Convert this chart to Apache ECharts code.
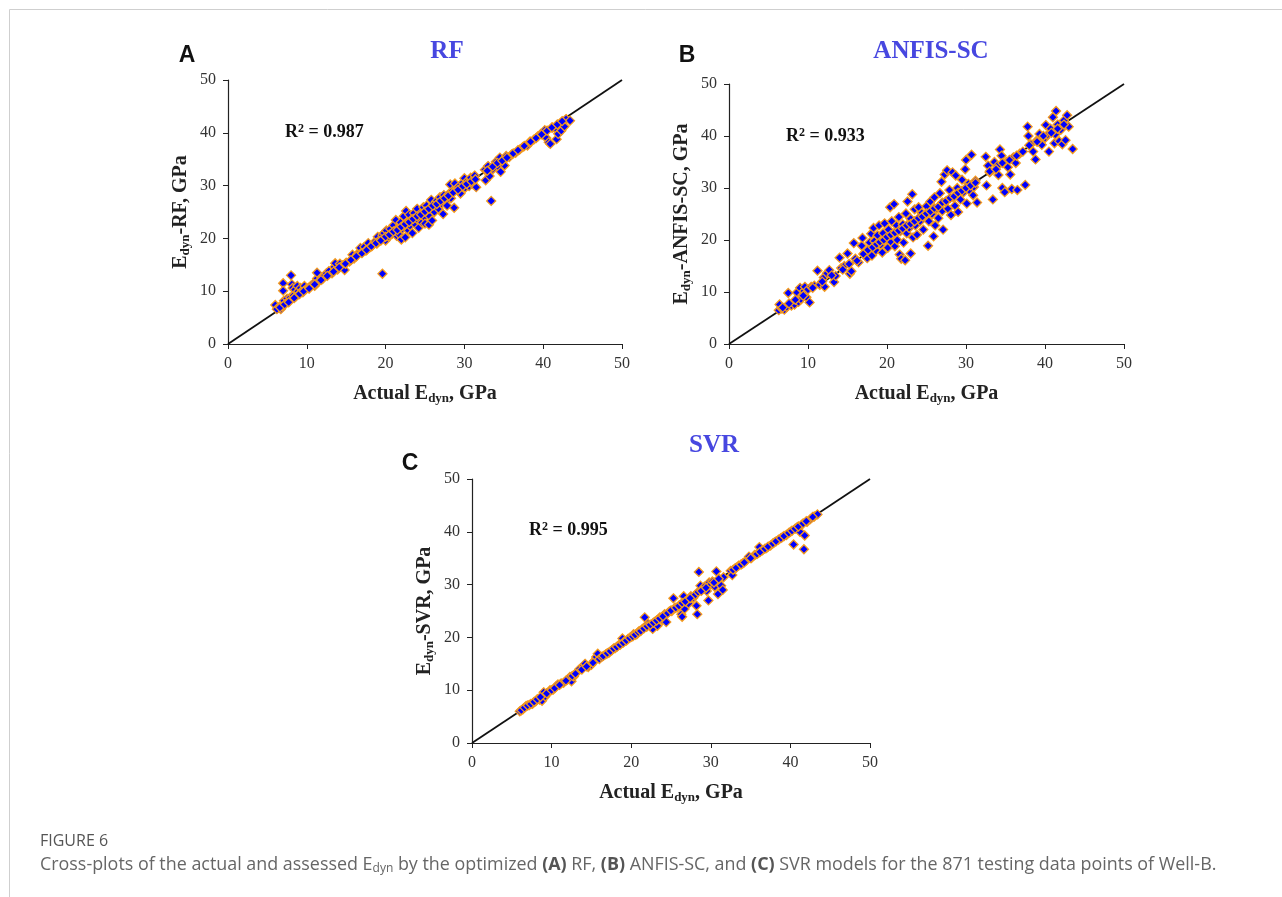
<!DOCTYPE html>
<html>
<head>
<meta charset="utf-8">
<script src="https://cdn.jsdelivr.net/npm/echarts@6/dist/echarts.min.js"></script>
<style>
html,body{margin:0;padding:0;background:#fff;}
#main{width:1282px;height:897px;}
</style>
</head>
<body>
<div id="main"></div>
<script>
// ---------- DATA ----------
const panelTitles = ['RF', 'ANFIS-SC', 'SVR'];
const panelLetters = ['A', 'B', 'C'];
const r2Values = ['0.987', '0.933', '0.995'];
const axisTickValues = [0, 10, 20, 30, 40, 50];
const diagonal = [[0, 0], [50, 50]];

const rfPoints = [
[6.0,7.4],[6.3,6.8],[6.5,7.0],[6.7,6.6],[6.9,7.2],[7.0,11.5],[7.0,10.1],[7.1,8.2],[7.3,7.6],[7.5,8.6],[7.6,8.0],[7.9,8.8],[8.0,13.0],[8.1,11.3],[8.2,10.6],[8.3,9.2],[8.5,10.3],[8.6,9.0],[8.8,11.0],[8.9,10.0],[9.0,9.4],[9.2,10.6],[9.4,10.1],[9.5,9.8],[9.7,11.0],[9.9,10.4],[10.2,10.6],[10.5,11.0],[10.8,11.4],[11.0,11.0],[11.3,12.4],[11.3,13.5],[11.6,12.0],[12.0,12.3],[12.2,12.9],[12.5,13.4],[12.8,13.8],[13.2,13.4],[13.5,14.6],[13.6,15.3],[13.9,14.1],[14.2,15.2],[14.5,14.9],[14.8,14.0],[15.0,15.4],[15.4,15.6],[15.8,16.9],[16.0,16.2],[16.4,17.0],[16.8,18.2],[17.0,17.4],[17.3,18.4],[17.5,17.7],[17.8,19.1],[18.0,18.3],[18.3,18.6],[18.6,19.3],[18.9,19.0],[19.0,20.3],[19.3,19.8],[19.6,13.3],[19.6,20.6],[19.8,21.0],[20.0,19.6],[20.1,21.5],[20.4,20.3],[20.6,21.8],[20.8,20.8],[21.0,22.5],[21.1,21.2],[21.3,23.5],[21.4,20.5],[21.6,22.0],[21.7,20.8],[21.9,23.0],[22.0,19.8],[22.1,21.8],[22.3,24.2],[22.4,22.6],[22.5,20.2],[22.6,25.2],[22.7,23.0],[22.9,21.5],[23.0,24.5],[23.1,22.4],[23.3,23.6],[23.4,21.0],[23.6,24.8],[23.8,22.6],[24.0,25.6],[24.1,23.5],[24.2,22.0],[24.4,24.7],[24.6,23.0],[24.8,25.9],[24.9,24.0],[25.0,22.8],[25.2,26.2],[25.3,25.0],[25.5,22.6],[25.6,24.2],[25.8,27.3],[25.9,23.4],[26.0,26.0],[26.2,25.0],[26.4,27.0],[26.5,26.4],[26.7,25.6],[26.9,27.8],[27.1,26.6],[27.3,24.6],[27.4,28.2],[27.6,27.0],[27.8,26.2],[28.0,28.4],[28.2,30.2],[28.3,27.6],[28.5,29.0],[28.7,25.8],[28.8,30.4],[29.0,29.4],[29.3,29.8],[29.5,28.5],[29.8,30.6],[30.0,31.4],[30.1,29.6],[30.4,30.9],[30.6,29.9],[30.8,31.5],[31.0,30.3],[31.3,31.9],[31.5,29.7],[32.6,33.0],[32.7,31.0],[33.0,33.7],[33.2,31.8],[33.4,27.1],[33.6,33.1],[34.0,34.5],[34.3,33.6],[34.5,35.3],[34.6,32.6],[34.9,34.8],[35.1,33.8],[35.3,35.6],[35.7,35.4],[36.0,35.9],[36.5,36.2],[37.0,36.8],[37.4,37.3],[38.0,37.6],[38.3,38.3],[38.8,38.7],[39.3,39.3],[39.7,39.8],[40.0,39.6],[40.2,40.5],[40.4,39.0],[40.7,38.2],[40.9,37.9],[41.2,41.0],[41.5,40.9],[41.7,38.8],[41.9,39.8],[42.1,41.7],[42.3,40.4],[42.5,42.1],[42.7,41.2],[42.9,42.6],[43.4,42.3]
];
const rfNearLine = [
[6.2,6.6],[6.6,6.9],[7.2,7.5],[7.7,7.9],[8.4,8.7],[9.1,9.5],[9.6,10.0],[10.3,10.5],[11.0,11.3],[11.8,12.1],[12.6,12.9],[13.4,13.7],[14.1,14.5],[14.9,15.2],[15.6,15.9],[16.3,16.6],[17.0,17.2],[17.6,17.8],[18.2,18.5],[18.8,19.1],[19.4,19.6],[20.0,20.3],[20.5,20.7],[21.0,21.3],[21.5,21.6],[22.0,22.2],[22.5,22.7],[23.0,23.1],[23.5,23.7],[24.0,24.2],[24.5,24.5],[25.0,25.1],[25.5,25.6],[26.0,26.2],[26.5,26.5],[27.0,27.1],[27.5,27.6],[28.0,28.1],[28.6,28.7],[29.2,29.2],[29.8,29.9],[30.3,30.3],[30.9,30.8],[31.4,31.2],[32.9,32.8],[33.6,33.6],[34.2,34.3],[34.8,34.7],[35.4,35.3],[36.2,36.1],[36.8,36.7],[37.6,37.5],[38.4,38.3],[39.1,39.0],[39.8,39.7],[40.5,40.4],[41.1,41.0],[41.8,41.6],[42.4,42.2]
];

const anfisPoints = [
[6.3,6.5],[6.4,7.6],[6.7,6.8],[7.0,6.6],[7.3,7.1],[7.5,9.8],[7.9,7.4],[8.3,7.6],[8.6,9.9],[8.8,8.1],[9.0,10.8],[9.1,8.6],[9.3,9.4],[9.5,10.2],[9.6,11.0],[9.8,9.0],[10.0,10.5],[10.2,8.0],[10.4,11.0],[10.8,11.2],[11.2,14.1],[11.5,11.4],[12.0,12.8],[12.1,11.0],[12.4,13.6],[12.7,14.2],[13.3,11.9],[13.5,13.1],[14.0,16.6],[14.2,14.6],[14.6,15.0],[15.0,17.4],[15.3,13.5],[15.5,14.0],[15.8,19.4],[16.0,16.4],[16.4,15.7],[16.8,18.9],[16.9,20.4],[17.2,17.6],[17.5,16.5],[17.8,19.5],[18.0,21.2],[18.1,17.0],[18.3,22.3],[18.4,19.8],[18.6,18.0],[18.8,20.9],[19.0,22.8],[19.2,19.1],[19.4,17.6],[19.5,21.3],[19.7,23.2],[19.9,20.2],[20.1,18.5],[20.2,22.0],[20.4,26.3],[20.5,19.6],[20.6,23.6],[20.8,21.2],[20.9,26.9],[21.0,18.8],[21.2,22.8],[21.3,20.0],[21.5,24.4],[21.6,17.2],[21.7,21.7],[21.8,16.4],[22.0,23.0],[22.1,19.5],[22.3,16.1],[22.4,25.1],[22.5,21.3],[22.6,27.4],[22.8,22.3],[23.0,17.4],[23.0,24.1],[23.2,28.8],[23.3,20.5],[23.5,25.9],[23.6,22.8],[23.8,21.0],[24.0,26.3],[24.2,23.6],[24.4,25.2],[24.6,22.0],[24.8,24.8],[25.0,26.5],[25.2,18.9],[25.3,23.6],[25.5,27.4],[25.7,25.0],[25.9,20.7],[26.0,28.2],[26.1,22.8],[26.3,26.0],[26.5,24.2],[26.7,29.0],[26.9,31.2],[27.0,25.6],[27.1,22.0],[27.3,32.6],[27.4,27.3],[27.6,33.4],[27.7,26.0],[27.9,29.6],[28.1,24.8],[28.3,33.0],[28.4,28.2],[28.6,26.6],[28.7,32.4],[28.9,30.0],[29.0,25.4],[29.3,27.8],[29.5,31.6],[29.7,29.2],[29.9,33.6],[30.0,35.4],[30.1,27.0],[30.3,30.8],[30.5,29.4],[30.7,36.4],[30.9,28.6],[31.0,30.2],[31.2,31.4],[31.4,27.2],[32.5,36.0],[32.6,30.5],[32.8,34.3],[33.0,33.0],[33.4,27.8],[33.6,35.0],[34.0,34.3],[34.1,32.5],[34.3,37.4],[34.5,36.2],[34.6,30.0],[34.9,29.2],[35.1,35.0],[35.3,34.0],[35.6,32.6],[35.8,29.8],[36.0,35.9],[36.3,34.8],[36.5,29.6],[36.8,36.6],[37.5,30.6],[37.8,41.8],[37.9,40.0],[38.2,38.4],[38.5,37.0],[38.8,35.5],[39.0,39.2],[39.3,40.4],[39.6,38.3],[40.0,39.6],[40.1,42.1],[40.3,40.2],[40.5,37.0],[40.7,41.4],[41.0,43.6],[41.2,38.6],[41.3,40.3],[41.4,44.8],[41.6,42.2],[41.8,39.0],[42.0,41.2],[42.2,38.4],[42.4,43.0],[42.6,39.2],[42.8,44.0],[43.0,41.8],[43.5,37.5]
];
const anfisNearLine = [
[6.8,7.0],[7.6,7.8],[8.4,8.5],[9.4,9.3],[10.6,10.8],[11.8,12.0],[13.0,13.2],[14.4,14.3],[15.2,15.4],[16.2,16.0],[17.0,17.3],[17.6,18.1],[18.2,18.6],[18.7,19.2],[19.1,19.6],[19.6,20.0],[20.0,20.6],[20.5,21.0],[21.0,21.4],[21.5,21.8],[22.0,22.2],[22.5,22.8],[23.0,23.1],[23.5,23.6],[24.0,24.2],[24.5,24.5],[25.0,25.1],[25.5,25.5],[26.0,26.1],[26.5,26.4],[27.0,27.2],[27.5,27.5],[28.0,28.1],[28.5,28.4],[29.0,29.1],[29.5,29.5],[30.0,30.0],[30.6,30.5],[31.2,31.0],[33.0,33.2],[33.8,33.6],[34.6,34.8],[35.5,35.4],[36.4,36.2],[37.2,37.0],[38.0,38.2],[39.0,38.9],[39.8,40.0],[40.8,40.6],[41.6,41.4],[42.4,42.2]
];

const svrPoints = [
[6.0,6.0],[6.4,6.4],[6.8,7.0],[7.2,7.2],[7.6,7.4],[8.0,7.9],[8.5,8.2],[8.8,8.0],[9.0,9.6],[9.2,8.8],[9.5,9.4],[9.8,10.0],[10.2,10.1],[10.6,10.8],[10.8,11.1],[11.2,11.3],[11.5,11.4],[12.0,12.0],[12.3,12.5],[12.5,11.7],[12.8,12.6],[13.3,13.6],[13.5,14.0],[14.0,14.6],[14.2,15.0],[14.6,14.4],[15.0,14.8],[15.3,15.5],[15.6,16.3],[15.8,16.9],[16.0,15.9],[16.3,16.3],[16.8,16.8],[17.2,17.1],[17.6,17.6],[18.0,18.0],[18.4,18.5],[18.8,18.9],[18.9,19.8],[19.2,19.3],[19.6,19.7],[20.0,20.1],[20.3,20.6],[20.7,20.6],[21.0,21.2],[21.4,21.6],[21.7,23.8],[21.9,22.0],[22.1,22.6],[22.4,22.1],[22.7,21.6],[23.0,23.0],[23.3,22.2],[23.6,23.8],[23.9,23.3],[24.2,24.4],[24.4,22.9],[24.8,24.9],[25.1,25.0],[25.3,27.4],[25.5,25.6],[25.8,25.7],[26.1,26.1],[26.3,24.4],[26.4,23.9],[26.6,27.8],[26.7,25.4],[27.0,27.0],[27.2,26.4],[27.5,27.8],[27.8,27.5],[28.0,28.0],[28.2,26.0],[28.3,24.4],[28.4,28.6],[28.5,32.4],[28.7,29.8],[28.9,29.0],[29.2,29.6],[29.5,28.8],[29.7,27.0],[29.8,30.4],[30.0,30.0],[30.2,30.6],[30.5,29.6],[30.7,32.5],[30.9,28.2],[31.1,31.0],[31.3,29.8],[31.5,29.0],[31.6,31.4],[32.5,32.6],[32.7,31.8],[33.0,33.0],[33.5,33.6],[34.0,34.0],[34.5,34.6],[34.8,35.3],[35.1,35.0],[35.5,35.6],[36.0,36.0],[36.1,37.1],[36.5,36.5],[37.0,36.9],[37.5,37.4],[38.0,38.0],[38.5,38.5],[39.0,39.0],[39.5,39.4],[40.0,40.0],[40.4,37.6],[40.8,40.8],[41.2,40.0],[41.4,41.3],[41.7,36.7],[41.8,39.3],[42.1,41.9],[42.5,42.4],[43.0,42.9],[43.4,43.3]
];
const svrNearLine = [
[6.2,6.2],[6.6,6.7],[7.0,7.1],[7.4,7.4],[7.8,7.8],[8.2,8.3],[8.6,8.7],[9.4,9.4],[10.0,10.0],[10.4,10.4],[11.0,11.0],[11.8,11.8],[12.6,12.7],[13.0,13.1],[13.8,13.9],[14.4,14.5],[15.2,15.2],[16.5,16.5],[17.0,17.0],[17.4,17.4],[17.8,17.9],[18.2,18.2],[18.6,18.6],[19.0,19.0],[19.4,19.4],[19.8,19.9],[20.2,20.2],[20.5,20.5],[20.9,21.0],[21.2,21.2],[21.6,21.7],[22.0,22.1],[22.4,22.4],[22.8,22.8],[23.2,23.2],[23.6,23.6],[24.0,24.0],[24.6,24.6],[25.0,25.1],[25.6,25.6],[26.0,26.0],[26.4,26.5],[26.8,26.8],[27.4,27.4],[28.8,28.8],[29.4,29.4],[30.4,30.4],[31.0,31.1],[32.8,32.8],[33.2,33.2],[33.8,33.8],[34.2,34.2],[35.0,35.0],[35.8,35.8],[36.2,36.2],[36.8,36.8],[37.2,37.2],[37.8,37.8],[38.2,38.2],[38.8,38.8],[39.2,39.2],[39.8,39.8],[40.2,40.2],[40.6,40.6],[41.0,41.0],[41.6,41.6],[42.0,42.0],[42.8,42.8]
];

// ---------- LAYOUT ----------
const serif = '"Liberation Serif", "Times New Roman", serif';
const grids = [
  {left: 228, top: 80, width: 394, height: 264},
  {left: 729, top: 84, width: 395, height: 260},
  {left: 472, top: 479, width: 398, height: 264}
];
const yNames = ['E{sub|dyn}-RF, GPa', 'E{sub|dyn}-ANFIS-SC, GPa', 'E{sub|dyn}-SVR, GPa'];
const pointSets = [rfPoints.concat(rfNearLine), anfisPoints.concat(anfisNearLine), svrPoints.concat(svrNearLine)];

const nameRich = {
  sub: {fontFamily: serif, fontWeight: 'bold', fontSize: 13, color: '#222', verticalAlign: 'bottom', padding: [10, 0, 0, 0]}
};

function axisCommon(idx) {
  return {
    gridIndex: idx, type: 'value', min: axisTickValues[0], max: axisTickValues[axisTickValues.length - 1], interval: 10,
    splitLine: {show: false},
    axisLine: {show: true, lineStyle: {color: '#222', width: 1.2}},
    axisTick: {show: true, inside: false, length: 5, lineStyle: {color: '#222'}},
    axisLabel: {fontFamily: serif, fontSize: 16, color: '#333', margin: 12}
  };
}

const xAxes = [], yAxes = [], series = [];
for (let i = 0; i < 3; i++) {
  xAxes.push(Object.assign(axisCommon(i), {
    name: 'Actual E{sub|dyn}, GPa', nameLocation: 'middle', nameGap: 38,
    nameTextStyle: {fontFamily: serif, fontWeight: 'bold', fontSize: 20, color: '#222', rich: nameRich}
  }));
  yAxes.push(Object.assign(axisCommon(i), {
    name: yNames[i], nameLocation: 'middle', nameGap: 36, nameRotate: 90,
    nameTextStyle: {fontFamily: serif, fontWeight: 'bold', fontSize: 20, color: '#222', rich: nameRich}
  }));
  series.push({
    type: 'line', xAxisIndex: i, yAxisIndex: i, data: diagonal, symbol: 'none', silent: true,
    lineStyle: {color: '#111', width: 1.8}, z: 1
  });
  series.push({
    type: 'scatter', xAxisIndex: i, yAxisIndex: i, data: pointSets[i],
    symbol: 'diamond', symbolSize: 9,
    itemStyle: {color: '#0000ff', borderColor: '#f39a1e', borderWidth: 1.3, opacity: 1},
    z: 2
  });
}

const titlePos = [[447, 52], [931, 52], [714, 446]];
const letterPos = [[187, 56], [687, 56], [410, 464]];
const r2Pos = [[285, 132], [786, 136], [529, 530]];

const graphics = [];
// page border lines
graphics.push({type: 'line', shape: {x1: 9.5, y1: 9.5, x2: 1282, y2: 9.5}, style: {stroke: '#cfcfcf', lineWidth: 1}});
graphics.push({type: 'line', shape: {x1: 9.5, y1: 9.5, x2: 9.5, y2: 897}, style: {stroke: '#cfcfcf', lineWidth: 1}});
for (let i = 0; i < 3; i++) {
  graphics.push({type: 'text', x: titlePos[i][0], y: titlePos[i][1], style: {
    text: panelTitles[i], fill: '#4747e0', font: 'bold 25px ' + serif, align: 'center', verticalAlign: 'middle'}});
  graphics.push({type: 'text', x: letterPos[i][0], y: letterPos[i][1], style: {
    text: panelLetters[i], fill: '#111', font: 'bold 23px "Liberation Sans", Arial, sans-serif', align: 'center', verticalAlign: 'middle'}});
  graphics.push({type: 'text', x: r2Pos[i][0], y: r2Pos[i][1], style: {
    text: 'R{sup|2} = ' + r2Values[i], fill: '#111', font: 'bold 18px ' + serif, align: 'left', verticalAlign: 'middle',
    rich: {sup: {fontFamily: serif, fontWeight: 'bold', fontSize: 12, fill: '#111', verticalAlign: 'top', padding: [0, 0, 6, 0]}}}});
}
// caption
const capFont = '"Open Sans", "Noto Sans", sans-serif';
graphics.push({type: 'text', x: 40, y: 841, style: {
  text: 'FIGURE 6', fill: '#555', font: '16px ' + capFont, align: 'left', verticalAlign: 'middle'}});
graphics.push({type: 'text', x: 40, y: 865, style: {
  text: 'Cross-plots of the actual and assessed E{s|dyn} by the optimized {b|(A)} RF, {b|(B)} ANFIS-SC, and {b|(C)} SVR models for the 871 testing data points of Well-B.',
  fill: '#666', font: '17.9px ' + capFont, align: 'left', verticalAlign: 'middle',
  rich: {
    s: {fontFamily: capFont, fontSize: 12, fill: '#666', verticalAlign: 'bottom', padding: [7, 0, 0, 0]},
    b: {fontFamily: capFont, fontSize: 17.9, fontWeight: 'bold', fill: '#555'}
  }}});

const chart = echarts.init(document.getElementById('main'), null, {renderer: 'canvas'});
chart.setOption({
  animation: false,
  backgroundColor: '#ffffff',
  grid: grids,
  xAxis: xAxes,
  yAxis: yAxes,
  series: series,
  graphic: graphics
});
</script>
</body>
</html>
